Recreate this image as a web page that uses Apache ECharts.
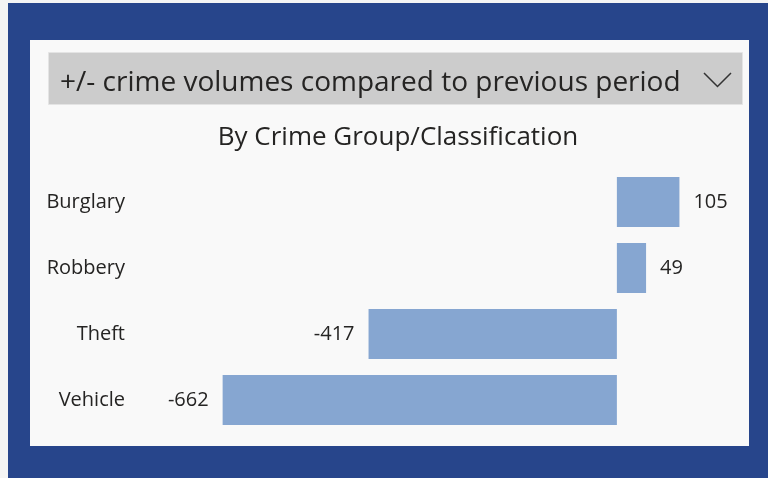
<!DOCTYPE html>
<html>
<head>
<meta charset="utf-8">
<script src="https://cdn.jsdelivr.net/npm/echarts@6/dist/echarts.min.js"></script>
<style>
  html, body { margin: 0; padding: 0; background: #f4f4f4; }
  #main { width: 768px; height: 478px; }
</style>
</head>
<body>
<div id="main"></div>
<script>
  // data
  var categories = ['Burglary', 'Robbery', 'Theft', 'Vehicle'];
  var changes = [105, 49, -417, -662];

  var textColor = '#252423';
  var font = '"Open Sans", "Noto Sans", sans-serif';

  // value labels go outside the bar end
  var barData = changes.map(function (v) {
    return {
      value: v,
      label: { position: v >= 0 ? 'right' : 'left' }
    };
  });

  var myChart = echarts.init(document.getElementById('main'));

  var option = {
    backgroundColor: '#f4f4f4',
    animation: false,
    title: {
      text: 'By Crime Group/Classification',
      left: 393,
      top: 120,
      textAlign: 'center',
      textStyle: { color: textColor, fontSize: 26, fontWeight: 'normal', fontFamily: font }
    },
    graphic: [
      // blue frame
      { type: 'rect', z: -10, shape: { x: 8, y: 3, width: 760, height: 475 }, style: { fill: '#27458b' } },
      // white panel
      { type: 'rect', z: -9, shape: { x: 30, y: 40, width: 719, height: 406 }, style: { fill: '#f9f9f9' } },
      // dropdown box
      { type: 'rect', z: -8, shape: { x: 48.5, y: 52.5, width: 694, height: 52 }, style: { fill: '#cccccc', stroke: '#e4e4e4', lineWidth: 1 } },
      {
        type: 'text', z: 5, x: 60, y: 83,
        style: { text: '+/- crime volumes compared to previous period', fill: textColor, fontSize: 28, fontFamily: font, verticalAlign: 'middle' }
      },
      {
        type: 'polyline', z: 5,
        shape: { points: [[704, 73], [717.5, 86.5], [731, 73]] },
        style: { stroke: '#333333', lineWidth: 1.5, fill: null }
      }
    ],
    grid: { left: 200, right: 32, top: 169, bottom: 45, containLabel: false },
    xAxis: {
      type: 'value',
      min: -700,
      max: 200,
      show: false
    },
    yAxis: {
      type: 'category',
      inverse: true,
      data: categories,
      axisLine: { show: false },
      axisTick: { show: false },
      splitLine: { show: false },
      axisLabel: { margin: 75, color: textColor, fontSize: 20, fontFamily: font }
    },
    series: [
      {
        name: 'Change',
        type: 'bar',
        barWidth: 50,
        itemStyle: { color: '#86a6d1' },
        label: { show: true, distance: 14, color: textColor, fontSize: 20, fontFamily: font },
        data: barData
      }
    ]
  };

  myChart.setOption(option);
</script>
</body>
</html>
